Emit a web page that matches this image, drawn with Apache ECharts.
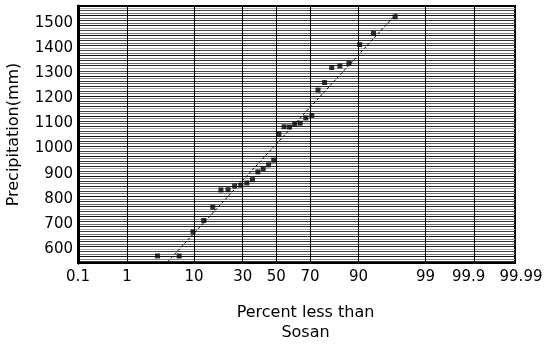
<!DOCTYPE html>
<html>
<head>
<meta charset="utf-8">
<script src="https://cdn.jsdelivr.net/npm/echarts@6/dist/echarts.min.js"></script>
<style>html,body{margin:0;padding:0;background:#fff}#c{width:544px;height:346px}</style>
</head>
<body>
<div id="c"></div>
<script>
// Probability-axis tick labels (percent less than)
const xTickPercents = [0.1, 1, 10, 30, 50, 70, 90, 99, 99.9, 99.99];
const xTickLabels = ['0.1', '1', '10', '30', '50', '70', '90', '99', '99.9', '99.99'];
// Y tick labels
const yTickValues = [600, 700, 800, 900, 1000, 1100, 1200, 1300, 1400, 1500];
// Observed points: plotting position (%) and precipitation (mm)
const pointPercents = [3.2, 6.5, 9.7, 12.9, 16.1, 19.4, 22.6, 25.8, 29.0, 32.3, 35.5, 38.7, 41.9, 45.2, 48.4,
                       51.6, 54.8, 58.1, 61.3, 64.5, 67.7, 71.0, 74.2, 77.4, 80.6, 83.9, 87.1, 90.3, 93.5, 96.8];
const pointValues = [572, 572, 668, 713, 766, 835, 836, 851, 854, 863, 876, 907, 919, 935, 954,
                     1058, 1087, 1086, 1098, 1101, 1122, 1132, 1233, 1263, 1323, 1329, 1340, 1414, 1459, 1525];
// Fitted line endpoints
const fitPercents = [4.5, 97.0];
const fitValues = [548, 1540];
// Fine horizontal grid (mm)
const yFineGrid = [];
for (let v = 550; v <= 1560; v += 10) yFineGrid.push(v);

function normInv(p) {
  const a=[-3.969683028665376e+01,2.209460984245205e+02,-2.759285104469687e+02,1.383577518672690e+02,-3.066479806614716e+01,2.506628277459239e+00];
  const b=[-5.447609879822406e+01,1.615858368580409e+02,-1.556989798598866e+02,6.680131188771972e+01,-1.328068155288572e+01];
  const c=[-7.784894002430293e-03,-3.223964580411365e-01,-2.400758277161838e+00,-2.549732539343734e+00,4.374664141464968e+00,2.938163982698783e+00];
  const d=[7.784695709041462e-03,3.224671290700398e-01,2.445134137142996e+00,3.754408661907416e+00];
  const pl=0.02425, ph=1-pl; let q,r;
  if (p < pl) { q=Math.sqrt(-2*Math.log(p)); return (((((c[0]*q+c[1])*q+c[2])*q+c[3])*q+c[4])*q+c[5])/((((d[0]*q+d[1])*q+d[2])*q+d[3])*q+1); }
  if (p <= ph) { q=p-0.5; r=q*q; return (((((a[0]*r+a[1])*r+a[2])*r+a[3])*r+a[4])*r+a[5])*q/(((((b[0]*r+b[1])*r+b[2])*r+b[3])*r+b[4])*r+1); }
  q=Math.sqrt(-2*Math.log(1-p)); return -(((((c[0]*q+c[1])*q+c[2])*q+c[3])*q+c[4])*q+c[5])/((((d[0]*q+d[1])*q+d[2])*q+d[3])*q+1);
}
const z = pc => normInv(pc / 100);
const xTickZ = xTickPercents.map(z);

const font = 'DejaVu Sans';
const chart = echarts.init(document.getElementById('c'), null, {renderer: 'canvas'});
chart.setOption({
  animation: false,
  backgroundColor: '#fff',
  grid: {left: 78, right: 29, top: 6, bottom: 83, containLabel: false, outerBoundsMode: 'none',
         show: true, borderColor: '#000', borderWidth: 2, backgroundColor: 'transparent'},
  xAxis: {
    type: 'value',
    min: xTickZ[0], max: xTickZ[xTickZ.length - 1],
    axisLine: {show: true, onZero: false, lineStyle: {color: '#000', width: 2}},
    axisTick: {show: false, customValues: xTickZ},
    splitLine: {show: true, lineStyle: {color: '#000', width: 1}},
    axisLabel: {
      customValues: xTickZ, margin: 7, color: '#000', fontFamily: font, fontSize: 15,
      formatter: v => {
        let bi = 0, bd = Infinity;
        xTickZ.forEach((t, i) => { const dd = Math.abs(t - v); if (dd < bd) { bd = dd; bi = i; } });
        if (bi === xTickZ.length - 2) return '{l|' + xTickLabels[bi] + '}';
        if (bi === xTickZ.length - 1) return '{r|' + xTickLabels[bi] + '}';
        return xTickLabels[bi];
      },
      rich: {
        l: {color: '#000', fontFamily: font, fontSize: 15, padding: [0, 12, 0, 0]},
        r: {color: '#000', fontFamily: font, fontSize: 15, padding: [0, 0, 0, 12]}
      }
    },
    name: 'Percent less than\nSosan',
    nameLocation: 'middle', nameGap: 40,
    nameTextStyle: {color: '#000', fontFamily: font, fontSize: 16, lineHeight: 20, padding: [0, 0, 0, 18]}
  },
  yAxis: {
    type: 'value',
    min: 544, max: 1568,
    axisLine: {show: true, onZero: false, lineStyle: {color: '#000', width: 3}},
    axisTick: {show: false, customValues: yFineGrid},
    splitLine: {show: true, lineStyle: {color: ['#333', '#888', '#111', '#777', '#444', '#aaa', '#222', '#666'], width: 1.2}},
    axisLabel: {customValues: yTickValues, margin: 5, color: '#000', fontFamily: font, fontSize: 15, formatter: v => String(v)},
    name: 'Precipitation(mm)',
    nameLocation: 'middle', nameGap: 56,
    nameTextStyle: {color: '#000', fontFamily: font, fontSize: 16}
  },
  series: [
    {
      type: 'line',
      data: fitPercents.map((p, i) => [z(p), fitValues[i]]),
      showSymbol: false, symbol: 'none',
      lineStyle: {color: '#000', width: 1, type: [3, 2]},
      z: 3
    },
    {
      type: 'scatter',
      data: pointPercents.map((p, i) => [z(p), pointValues[i]]),
      symbol: 'rect', symbolSize: 5,
      itemStyle: {color: '#000'},
      z: 4
    }
  ]
});
</script>
</body>
</html>
